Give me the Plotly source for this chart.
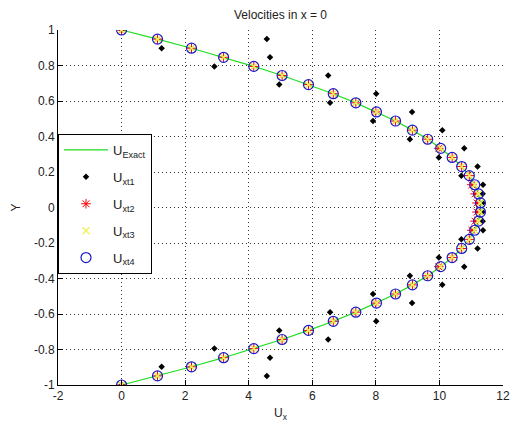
import plotly.graph_objects as go

y_vals = [-1.0000, -0.9487, -0.8974, -0.8462, -0.7949, -0.7436, -0.6923, -0.6410, -0.5897, -0.5385,
          -0.4872, -0.4359, -0.3846, -0.3333, -0.2821, -0.2308, -0.1795, -0.1282, -0.0769, -0.0256,
          0.0256, 0.0769, 0.1282, 0.1795, 0.2308, 0.2821, 0.3333, 0.3846, 0.4359, 0.4872,
          0.5385, 0.5897, 0.6410, 0.6923, 0.7436, 0.7949, 0.8462, 0.8974, 0.9487, 1.0000]

u_exact = [0.00, 1.13, 2.20, 3.21, 4.16, 5.05, 5.88, 6.66, 7.37, 8.02,
           8.62, 9.15, 9.63, 10.04, 10.40, 10.70, 10.94, 11.11, 11.23, 11.29,
           11.29, 11.23, 11.11, 10.94, 10.70, 10.40, 10.04, 9.63, 9.15, 8.62,
           8.02, 7.37, 6.66, 5.88, 5.05, 4.16, 3.21, 2.20, 1.13, 0.00]

u_xt1 = [0.00, 4.57, 1.26, 4.67, 2.92, 6.50, 4.96, 8.01, 6.56, 9.14,
         7.91, 10.09, 9.07, 10.78, 9.98, 11.20, 10.69, 11.37, 11.36, 11.36,
         11.36, 11.36, 11.37, 10.69, 11.20, 9.98, 10.78, 9.07, 10.09, 7.91,
         9.14, 6.56, 8.01, 4.96, 6.50, 2.92, 4.67, 1.26, 4.57, 0.00]

u_xt2 = [0.00, 1.13, 2.20, 3.21, 4.16, 5.05, 5.88, 6.66, 7.37, 8.00,
         8.62, 9.15, 9.63, 9.98, 10.40, 10.70, 10.94, 11.02, 11.12, 11.18,
         11.18, 11.12, 11.02, 10.94, 10.70, 10.40, 9.98, 9.63, 9.15, 8.62,
         8.00, 7.37, 6.66, 5.88, 5.05, 4.16, 3.21, 2.20, 1.13, 0.00]

u_xt3 = [0.00, 1.13, 2.20, 3.21, 4.16, 5.05, 5.88, 6.66, 7.37, 8.02,
         8.62, 9.15, 9.63, 10.04, 10.40, 10.70, 10.94, 11.11, 11.23, 11.29,
         11.29, 11.23, 11.11, 10.94, 10.70, 10.40, 10.04, 9.63, 9.15, 8.62,
         8.02, 7.37, 6.66, 5.88, 5.05, 4.16, 3.21, 2.20, 1.13, 0.00]

u_xt4 = [0.00, 1.13, 2.20, 3.21, 4.16, 5.05, 5.88, 6.66, 7.37, 8.02,
         8.62, 9.15, 9.63, 10.04, 10.40, 10.70, 10.94, 11.11, 11.23, 11.29,
         11.29, 11.23, 11.11, 10.94, 10.70, 10.40, 10.04, 9.63, 9.15, 8.62,
         8.02, 7.37, 6.66, 5.88, 5.05, 4.16, 3.21, 2.20, 1.13, 0.00]

x_ticks = [-2, 0, 2, 4, 6, 8, 10, 12]
x_ticktext = ["-2", "0", "2", "4", "6", "8", "10", "12"]
y_ticks = [-1, -0.8, -0.6, -0.4, -0.2, 0, 0.2, 0.4, 0.6, 0.8, 1]
y_ticktext = ["-1", "-0.8", "-0.6", "-0.4", "-0.2", "0", "0.2", "0.4", "0.6", "0.8", "1"]

font_family = "Liberation Sans, Arial, sans-serif"

fig = go.Figure()
fig.add_trace(go.Scatter(x=u_exact, y=y_vals, mode="lines", name="U<sub>Exact</sub>",
                         line=dict(color="#22dd22", width=1.2), legendgroup="a"))
fig.add_trace(go.Scatter(x=u_xt1, y=y_vals, mode="markers", name="U<sub>xt1</sub>",
                         marker=dict(color="black", size=5, symbol="diamond"), legendgroup="b"))
fig.add_trace(go.Scatter(x=u_xt2, y=y_vals, mode="markers", name="U<sub>xt2</sub>",
                         marker=dict(symbol="asterisk-open", size=8, color="red",
                                     line=dict(color="red", width=1)), legendgroup="c"))
fig.add_trace(go.Scatter(x=u_xt3, y=y_vals, mode="markers", name="U<sub>xt3</sub>",
                         marker=dict(symbol="x-thin-open", size=7, color="#f0f060",
                                     line=dict(color="#f0f060", width=1.5)), legendgroup="d"))
fig.add_trace(go.Scatter(x=u_xt4, y=y_vals, mode="markers", name="U<sub>xt4</sub>",
                         marker=dict(symbol="circle-open", size=10, color="#1a1acc",
                                     line=dict(color="#1a1acc", width=1.2)), legendgroup="e"))

axis_common = dict(
    showgrid=True, gridcolor="#333333", griddash="1px,3px", gridwidth=1,
    zeroline=False, showline=True, linecolor="black", linewidth=1,
    ticks="inside", ticklen=5, tickcolor="black", mirror=False,
    tickfont=dict(family=font_family, size=12, color="#222222"),
)

fig.update_xaxes(range=[-2, 12], tickvals=x_ticks, ticktext=x_ticktext,
                 title=dict(text="U<sub>x</sub>", font=dict(family=font_family, size=12, color="#222222"),
                            standoff=6),
                 **axis_common)
fig.update_yaxes(range=[-1, 1], tickvals=y_ticks, ticktext=y_ticktext,
                 title=dict(text="Y", font=dict(family=font_family, size=12, color="#222222"),
                            standoff=10),
                 **axis_common)

fig.update_layout(
    width=518, height=430,
    margin=dict(l=58, r=8, t=30, b=45),
    paper_bgcolor="white", plot_bgcolor="white",
    title=dict(text="Velocities in x = 0", x=0.5, xref="paper", y=0.975, yanchor="top",
               font=dict(family=font_family, size=12, color="#222222")),
    legend=dict(x=0.0, y=0.707, xanchor="left", yanchor="top",
                bgcolor="white", bordercolor="black", borderwidth=1,
                font=dict(family=font_family, size=13, color="#222222"),
                tracegroupgap=7, itemwidth=44),
    showlegend=True,
)

fig.write_html("out.html")
